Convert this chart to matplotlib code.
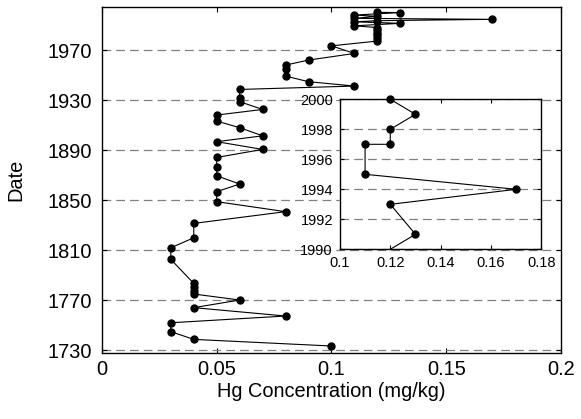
import numpy as np
import matplotlib
matplotlib.use('Agg')
import matplotlib.pyplot as plt

plt.rcParams['font.family'] = ['Liberation Sans', 'DejaVu Sans']

# full core record, top to bottom
years = [2000.2, 2000.0, 1998.0, 1997.0, 1995.4, 1994.6, 1993.5, 1992.6,
         1991.4, 1989.4, 1988.0, 1986.0, 1984.0, 1982.0, 1980.0, 1977.2,
         1973.4, 1967.3, 1962.0, 1958.0, 1954.5, 1949.2, 1944.7, 1941.2,
         1938.5, 1931.9, 1928.7, 1922.5, 1918.0, 1913.2, 1907.9, 1901.4,
         1896.7, 1890.5, 1884.1, 1876.5, 1869.4, 1862.8, 1856.7, 1848.7,
         1840.7, 1831.3, 1819.8, 1811.8, 1802.5, 1783.3, 1780.7, 1777.4,
         1774.8, 1770.0, 1763.9, 1757.2, 1751.8, 1744.7, 1738.5, 1733.2]
hg = [0.12, 0.13, 0.11, 0.12, 0.11, 0.17, 0.12, 0.11,
      0.13, 0.11, 0.12, 0.12, 0.12, 0.12, 0.12, 0.12,
      0.10, 0.11, 0.09, 0.08, 0.08, 0.08, 0.09, 0.11,
      0.06, 0.06, 0.06, 0.07, 0.05, 0.05, 0.06, 0.07,
      0.05, 0.07, 0.05, 0.05, 0.05, 0.06, 0.05, 0.05,
      0.08, 0.04, 0.04, 0.03, 0.03, 0.04, 0.04, 0.04,
      0.04, 0.06, 0.04, 0.08, 0.03, 0.03, 0.04, 0.10]

# last decade, shown in the inset
inset_years = [2000, 1999, 1998, 1997, 1997, 1995, 1994, 1993, 1991, 1989]
inset_hg = [0.12, 0.13, 0.12, 0.12, 0.11, 0.11, 0.17, 0.12, 0.13, 0.11]

main_yticks = [1730, 1770, 1810, 1850, 1890, 1930, 1970]
main_xticks = [0, 0.05, 0.1, 0.15, 0.2]
inset_yticks = [1990, 1992, 1994, 1996, 1998, 2000]
inset_xticks = [0.1, 0.12, 0.14, 0.16, 0.18]

grid_kw = dict(color='#808080', linestyle=(0, (7, 4)), linewidth=0.9)

fig = plt.figure(figsize=(5.81, 4.19), dpi=100)

ax = fig.add_axes([0.1755, 0.1575, 0.790, 0.825])
ax.plot(hg, years, color='black', linewidth=0.8, marker='o',
        markersize=5, zorder=3)
ax.set_xlim(0, 0.2)
ax.set_ylim(1727.6, 2004.2)
ax.set_xticks(main_xticks)
ax.set_xticklabels(['0', '0.05', '0.1', '0.15', '0.2'])
ax.set_yticks(main_yticks)
ax.yaxis.grid(True, **grid_kw)
ax.tick_params(direction='in', length=3.5, width=0.8, labelsize=14.4,
               top=True, right=True)
ax.tick_params(axis='y', pad=7)
ax.tick_params(axis='x', pad=5)
ax.set_xlabel('Hg Concentration (mg/kg)', fontsize=14.4, labelpad=2)
ax.set_ylabel('Date', fontsize=14.4, labelpad=16)
for s in ax.spines.values():
    s.set_linewidth(1.0)

ins = fig.add_axes([0.585, 0.405, 0.347, 0.358])
ins.plot(inset_hg, inset_years, color='black', linewidth=0.8, zorder=3)
yrs = np.array(inset_years)
vis = (yrs >= 1990) & (yrs <= 2000)
ins.plot(np.array(inset_hg)[vis], yrs[vis], linestyle='none', marker='o',
         markersize=5, color='black', clip_on=False, zorder=4)
ins.set_xlim(0.1, 0.18)
ins.set_ylim(1990, 2000)
ins.set_xticks(inset_xticks)
ins.set_xticklabels(['0.1', '0.12', '0.14', '0.16', '0.18'])
ins.set_yticks(inset_yticks)
ins.yaxis.grid(True, **grid_kw)
ins.tick_params(direction='in', length=3, width=0.8, labelsize=10.5,
                top=True, right=True, pad=5)
for s in ins.spines.values():
    s.set_linewidth(1.0)

fig.savefig('out.png', dpi=100)
